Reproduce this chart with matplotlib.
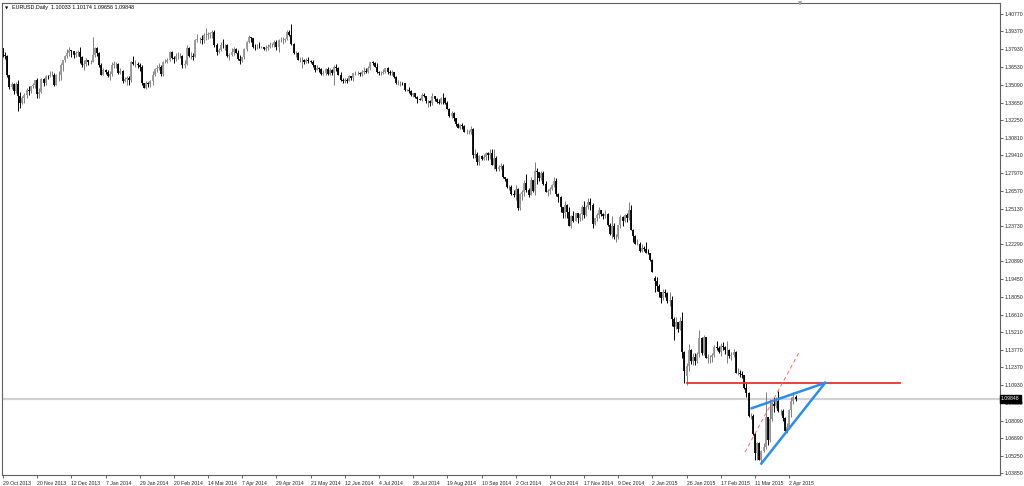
# EURUSD daily candles with wedge / level drawings (MT4 style)

import numpy as np
import matplotlib
matplotlib.use('Agg')
import matplotlib.pyplot as plt
from matplotlib.transforms import blended_transform_factory

# Daily OHLC, 29 Oct 2013 .. 7 Apr 2015 (one value per trading day)
opens = [
    1.3800, 1.3745, 1.3740, 1.3585, 1.3487, 1.3515, 1.3456, 1.3515, 1.3415, 1.3365,
    1.3405, 1.3425, 1.3465, 1.3460, 1.3495, 1.3505, 1.3545, 1.3435, 1.3450, 1.3555,
    1.3525, 1.3580, 1.3575, 1.3590, 1.3590, 1.3510, 1.3590, 1.3590, 1.3665, 1.3705,
    1.3740, 1.3760, 1.3785, 1.3780, 1.3745, 1.3765, 1.3770, 1.3735, 1.3670, 1.3675,
    1.3705, 1.3690, 1.3690, 1.3745, 1.3800, 1.3765, 1.3670, 1.3590, 1.3625, 1.3615,
    1.3575, 1.3595, 1.3665, 1.3675, 1.3675, 1.3605, 1.3620, 1.3540, 1.3555, 1.3560,
    1.3545, 1.3690, 1.3675, 1.3675, 1.3665, 1.3655, 1.3520, 1.3485, 1.3525, 1.3515,
    1.3535, 1.3590, 1.3635, 1.3640, 1.3655, 1.3595, 1.3690, 1.3695, 1.3710, 1.3775,
    1.3725, 1.3715, 1.3740, 1.3740, 1.3740, 1.3670, 1.3675, 1.3805, 1.3740, 1.3740,
    1.3735, 1.3865, 1.3875, 1.3875, 1.3865, 1.3905, 1.3905, 1.3915, 1.3925, 1.3930,
    1.3830, 1.3775, 1.3790, 1.3830, 1.3825, 1.3830, 1.3740, 1.3750, 1.3770, 1.3795,
    1.3765, 1.3715, 1.3700, 1.3730, 1.3795, 1.3855, 1.3890, 1.3885, 1.3815, 1.3810,
    1.3815, 1.3810, 1.3810, 1.3795, 1.3805, 1.3815, 1.3825, 1.3830, 1.3855, 1.3815,
    1.3870, 1.3870, 1.3870, 1.3875, 1.3930, 1.3910, 1.3835, 1.3760, 1.3760, 1.3710,
    1.3710, 1.3710, 1.3695, 1.3710, 1.3700, 1.3690, 1.3665, 1.3630, 1.3640, 1.3635,
    1.3595, 1.3600, 1.3635, 1.3595, 1.3625, 1.3600, 1.3655, 1.3640, 1.3590, 1.3545,
    1.3535, 1.3545, 1.3540, 1.3575, 1.3560, 1.3600, 1.3605, 1.3605, 1.3595, 1.3615,
    1.3620, 1.3615, 1.3645, 1.3690, 1.3680, 1.3655, 1.3615, 1.3600, 1.3605, 1.3615,
    1.3640, 1.3610, 1.3605, 1.3610, 1.3570, 1.3525, 1.3525, 1.3525, 1.3520, 1.3465,
    1.3465, 1.3460, 1.3430, 1.3440, 1.3410, 1.3395, 1.3390, 1.3430, 1.3415, 1.3375,
    1.3380, 1.3360, 1.3415, 1.3395, 1.3370, 1.3360, 1.3405, 1.3400, 1.3365, 1.3315,
    1.3255, 1.3280, 1.3240, 1.3195, 1.3165, 1.3185, 1.3180, 1.3130, 1.3130, 1.3130,
    1.3150, 1.2945, 1.2955, 1.2890, 1.2940, 1.2915, 1.2925, 1.2960, 1.2945, 1.2960,
    1.2865, 1.2920, 1.2830, 1.2850, 1.2855, 1.2765, 1.2750, 1.2685, 1.2690, 1.2630,
    1.2620, 1.2670, 1.2515, 1.2630, 1.2645, 1.2720, 1.2660, 1.2625, 1.2740, 1.2655,
    1.2815, 1.2810, 1.2760, 1.2800, 1.2710, 1.2650, 1.2655, 1.2670, 1.2700, 1.2735,
    1.2630, 1.2610, 1.2525, 1.2480, 1.2545, 1.2490, 1.2375, 1.2450, 1.2415, 1.2475,
    1.2435, 1.2470, 1.2525, 1.2460, 1.2530, 1.2565, 1.2545, 1.2390, 1.2435, 1.2465,
    1.2505, 1.2470, 1.2450, 1.2470, 1.2380, 1.2310, 1.2375, 1.2285, 1.2285, 1.2380,
    1.2445, 1.2410, 1.2465, 1.2440, 1.2500, 1.2345, 1.2290, 1.2230, 1.2230, 1.2175,
    1.2200, 1.2185, 1.2160, 1.2155, 1.2100, 1.1955, 1.1935, 1.1890, 1.1840, 1.1795,
    1.1840, 1.1835, 1.1775, 1.1780, 1.1630, 1.1565, 1.1600, 1.1550, 1.1610, 1.1365,
    1.1165, 1.1245, 1.1380, 1.1285, 1.1320, 1.1290, 1.1345, 1.1475, 1.1350, 1.1478,
    1.1315, 1.1320, 1.1325, 1.1335, 1.1405, 1.1390, 1.1365, 1.1410, 1.1405, 1.1375,
    1.1380, 1.1330, 1.1340, 1.1365, 1.1195, 1.1195, 1.1185, 1.1175, 1.1075, 1.1030,
    1.0845, 1.0850, 1.0700, 1.0550, 1.0630, 1.0495, 1.0565, 1.0595, 1.0835, 1.0655,
    1.0825, 1.0940, 1.0925, 1.0965, 1.0885, 1.0890, 1.0830, 1.0730, 1.0760, 1.0895,
    1.0970, 1.10033,
]
highs = [
    1.3806, 1.3772, 1.3744, 1.3590, 1.3530, 1.3522, 1.3530, 1.3545, 1.3450, 1.3420,
    1.3440, 1.3480, 1.3495, 1.3500, 1.3525, 1.3550, 1.3560, 1.3480, 1.3560, 1.3565,
    1.3585, 1.3590, 1.3620, 1.3620, 1.3600, 1.3595, 1.3620, 1.3680, 1.3710, 1.3745,
    1.3795, 1.3810, 1.3790, 1.3782, 1.3780, 1.3790, 1.3810, 1.3740, 1.3705, 1.3720,
    1.3710, 1.3705, 1.3893, 1.3810, 1.3815, 1.3775, 1.3680, 1.3645, 1.3635, 1.3625,
    1.3620, 1.3690, 1.3700, 1.3690, 1.3680, 1.3640, 1.3625, 1.3570, 1.3575, 1.3580,
    1.3700, 1.3740, 1.3710, 1.3690, 1.3680, 1.3665, 1.3525, 1.3540, 1.3530, 1.3545,
    1.3620, 1.3645, 1.3665, 1.3680, 1.3665, 1.3700, 1.3715, 1.3720, 1.3780, 1.3780,
    1.3740, 1.3760, 1.3770, 1.3765, 1.3745, 1.3710, 1.3825, 1.3810, 1.3770, 1.3760,
    1.3875, 1.3915, 1.3890, 1.3905, 1.3925, 1.3967, 1.3935, 1.3935, 1.3945, 1.3950,
    1.3840, 1.3805, 1.3850, 1.3875, 1.3835, 1.3835, 1.3765, 1.3805, 1.3810, 1.3805,
    1.3785, 1.3745, 1.3735, 1.3800, 1.3860, 1.3905, 1.3895, 1.3885, 1.3835, 1.3835,
    1.3850, 1.3820, 1.3815, 1.3825, 1.3835, 1.3850, 1.3845, 1.3865, 1.3865, 1.3880,
    1.3890, 1.3890, 1.3885, 1.3950, 1.3950, 1.3993, 1.3840, 1.3780, 1.3770, 1.3730,
    1.3730, 1.3715, 1.3725, 1.3730, 1.3705, 1.3705, 1.3670, 1.3665, 1.3650, 1.3640,
    1.3625, 1.3645, 1.3650, 1.3645, 1.3635, 1.3670, 1.3677, 1.3650, 1.3610, 1.3560,
    1.3560, 1.3565, 1.3590, 1.3580, 1.3605, 1.3620, 1.3620, 1.3615, 1.3625, 1.3650,
    1.3645, 1.3660, 1.3695, 1.3700, 1.3695, 1.3680, 1.3620, 1.3620, 1.3635, 1.3645,
    1.3650, 1.3625, 1.3625, 1.3615, 1.3580, 1.3545, 1.3535, 1.3530, 1.3525, 1.3475,
    1.3490, 1.3470, 1.3445, 1.3445, 1.3420, 1.3405, 1.3445, 1.3440, 1.3420, 1.3390,
    1.3390, 1.3440, 1.3420, 1.3405, 1.3395, 1.3410, 1.3445, 1.3410, 1.3375, 1.3325,
    1.3295, 1.3290, 1.3240, 1.3200, 1.3195, 1.3205, 1.3185, 1.3150, 1.3145, 1.3175,
    1.3160, 1.2995, 1.2965, 1.2945, 1.2945, 1.2950, 1.2965, 1.2965, 1.2990, 1.2990,
    1.2990, 1.2935, 1.2860, 1.2880, 1.2875, 1.2770, 1.2760, 1.2705, 1.2705, 1.2665,
    1.2700, 1.2675, 1.2635, 1.2665, 1.2745, 1.2790, 1.2675, 1.2770, 1.2745, 1.2887,
    1.2840, 1.2810, 1.2815, 1.2815, 1.2735, 1.2670, 1.2685, 1.2715, 1.2765, 1.2760,
    1.2640, 1.2615, 1.2530, 1.2575, 1.2550, 1.2530, 1.2465, 1.2495, 1.2480, 1.2480,
    1.2475, 1.2545, 1.2575, 1.2545, 1.2600, 1.2595, 1.2555, 1.2440, 1.2475, 1.2530,
    1.2505, 1.2480, 1.2500, 1.2475, 1.2395, 1.2455, 1.2395, 1.2310, 1.2385, 1.2460,
    1.2450, 1.2470, 1.2480, 1.2570, 1.2540, 1.2350, 1.2300, 1.2270, 1.2245, 1.2225,
    1.2210, 1.2245, 1.2185, 1.2160, 1.2105, 1.1970, 1.1960, 1.1905, 1.1845, 1.1865,
    1.1870, 1.1845, 1.1840, 1.1810, 1.1645, 1.1645, 1.1605, 1.1640, 1.1680, 1.1370,
    1.1270, 1.1425, 1.1385, 1.1350, 1.1350, 1.1365, 1.1535, 1.1485, 1.1500, 1.1485,
    1.1345, 1.1340, 1.1350, 1.1420, 1.1450, 1.1410, 1.1430, 1.1445, 1.1410, 1.1450,
    1.1385, 1.1365, 1.1385, 1.1370, 1.1230, 1.1215, 1.1205, 1.1180, 1.1115, 1.1040,
    1.0870, 1.0860, 1.0715, 1.0635, 1.0635, 1.0575, 1.0630, 1.1043, 1.0840, 1.0985,
    1.0960, 1.1000, 1.1000, 1.1050, 1.0900, 1.0905, 1.0835, 1.0790, 1.0905, 1.1000,
    1.1037, 1.10174,
]
lows = [
    1.3735, 1.3715, 1.3574, 1.3478, 1.3476, 1.3437, 1.3445, 1.3296, 1.3320, 1.3355,
    1.3365, 1.3400, 1.3430, 1.3440, 1.3480, 1.3480, 1.3400, 1.3405, 1.3440, 1.3495,
    1.3510, 1.3555, 1.3570, 1.3575, 1.3500, 1.3505, 1.3540, 1.3545, 1.3620, 1.3690,
    1.3725, 1.3740, 1.3735, 1.3720, 1.3730, 1.3740, 1.3680, 1.3655, 1.3625, 1.3660,
    1.3665, 1.3675, 1.3690, 1.3735, 1.3740, 1.3655, 1.3585, 1.3590, 1.3595, 1.3570,
    1.3550, 1.3580, 1.3645, 1.3640, 1.3595, 1.3595, 1.3525, 1.3530, 1.3505, 1.3510,
    1.3530, 1.3665, 1.3650, 1.3640, 1.3620, 1.3510, 1.3480, 1.3477, 1.3490, 1.3490,
    1.3510, 1.3575, 1.3615, 1.3630, 1.3580, 1.3580, 1.3680, 1.3685, 1.3700, 1.3715,
    1.3685, 1.3700, 1.3715, 1.3720, 1.3645, 1.3640, 1.3670, 1.3735, 1.3715, 1.3710,
    1.3730, 1.3850, 1.3845, 1.3835, 1.3845, 1.3870, 1.3880, 1.3885, 1.3885, 1.3815,
    1.3750, 1.3760, 1.3780, 1.3805, 1.3790, 1.3735, 1.3705, 1.3740, 1.3750, 1.3760,
    1.3705, 1.3675, 1.3690, 1.3715, 1.3780, 1.3845, 1.3855, 1.3805, 1.3790, 1.3795,
    1.3805, 1.3800, 1.3785, 1.3780, 1.3790, 1.3800, 1.3810, 1.3810, 1.3790, 1.3775,
    1.3855, 1.3835, 1.3855, 1.3870, 1.3900, 1.3830, 1.3755, 1.3735, 1.3705, 1.3695,
    1.3645, 1.3675, 1.3685, 1.3685, 1.3680, 1.3655, 1.3615, 1.3625, 1.3615, 1.3590,
    1.3585, 1.3590, 1.3590, 1.3590, 1.3590, 1.3503, 1.3620, 1.3585, 1.3535, 1.3525,
    1.3520, 1.3525, 1.3535, 1.3545, 1.3540, 1.3585, 1.3585, 1.3580, 1.3575, 1.3595,
    1.3605, 1.3600, 1.3630, 1.3665, 1.3650, 1.3605, 1.3590, 1.3585, 1.3595, 1.3600,
    1.3595, 1.3590, 1.3585, 1.3565, 1.3515, 1.3505, 1.3500, 1.3505, 1.3460, 1.3455,
    1.3445, 1.3420, 1.3410, 1.3405, 1.3365, 1.3385, 1.3375, 1.3410, 1.3365, 1.3332,
    1.3335, 1.3345, 1.3380, 1.3360, 1.3355, 1.3355, 1.3355, 1.3355, 1.3310, 1.3250,
    1.3240, 1.3215, 1.3175, 1.3160, 1.3155, 1.3150, 1.3125, 1.3110, 1.3110, 1.3115,
    1.2920, 1.2920, 1.2860, 1.2860, 1.2900, 1.2905, 1.2900, 1.2905, 1.2915, 1.2860,
    1.2835, 1.2815, 1.2815, 1.2835, 1.2760, 1.2735, 1.2680, 1.2665, 1.2620, 1.2605,
    1.2585, 1.2500, 1.2505, 1.2585, 1.2615, 1.2650, 1.2610, 1.2620, 1.2650, 1.2625,
    1.2715, 1.2735, 1.2745, 1.2705, 1.2645, 1.2615, 1.2630, 1.2665, 1.2690, 1.2615,
    1.2565, 1.2485, 1.2440, 1.2440, 1.2440, 1.2370, 1.2358, 1.2405, 1.2410, 1.2400,
    1.2415, 1.2425, 1.2440, 1.2455, 1.2510, 1.2505, 1.2360, 1.2385, 1.2415, 1.2440,
    1.2455, 1.2430, 1.2435, 1.2375, 1.2300, 1.2280, 1.2270, 1.2247, 1.2270, 1.2355,
    1.2375, 1.2405, 1.2405, 1.2425, 1.2340, 1.2245, 1.2225, 1.2220, 1.2165, 1.2165,
    1.2175, 1.2155, 1.2145, 1.2095, 1.2000, 1.1842, 1.1855, 1.1800, 1.1755, 1.1780,
    1.1800, 1.1755, 1.1727, 1.1567, 1.1460, 1.1550, 1.1520, 1.1535, 1.1315, 1.1115,
    1.1098, 1.1210, 1.1265, 1.1260, 1.1260, 1.1275, 1.1325, 1.1340, 1.1340, 1.1310,
    1.1270, 1.1270, 1.1280, 1.1320, 1.1375, 1.1355, 1.1330, 1.1380, 1.1345, 1.1270,
    1.1310, 1.1295, 1.1320, 1.1190, 1.1175, 1.1160, 1.1150, 1.1065, 1.1000, 1.0840,
    1.0820, 1.0695, 1.0495, 1.0490, 1.0490, 1.0462, 1.0555, 1.0585, 1.0613, 1.0640,
    1.0805, 1.0880, 1.0910, 1.0880, 1.0855, 1.0810, 1.0710, 1.0712, 1.0750, 1.0840,
    1.0945, 1.09656,
]
closes = [
    1.3745, 1.3740, 1.3585, 1.3487, 1.3515, 1.3456, 1.3515, 1.3415, 1.3365, 1.3405,
    1.3425, 1.3465, 1.3460, 1.3495, 1.3505, 1.3545, 1.3435, 1.3450, 1.3555, 1.3525,
    1.3580, 1.3575, 1.3590, 1.3590, 1.3510, 1.3590, 1.3590, 1.3665, 1.3705, 1.3740,
    1.3760, 1.3785, 1.3780, 1.3745, 1.3765, 1.3770, 1.3735, 1.3670, 1.3675, 1.3705,
    1.3690, 1.3690, 1.3745, 1.3800, 1.3765, 1.3670, 1.3590, 1.3625, 1.3615, 1.3575,
    1.3595, 1.3665, 1.3675, 1.3675, 1.3605, 1.3620, 1.3540, 1.3555, 1.3560, 1.3545,
    1.3690, 1.3675, 1.3675, 1.3665, 1.3655, 1.3520, 1.3485, 1.3525, 1.3515, 1.3535,
    1.3590, 1.3635, 1.3640, 1.3655, 1.3595, 1.3690, 1.3695, 1.3710, 1.3775, 1.3725,
    1.3715, 1.3740, 1.3740, 1.3740, 1.3670, 1.3675, 1.3805, 1.3740, 1.3740, 1.3735,
    1.3865, 1.3875, 1.3875, 1.3865, 1.3905, 1.3905, 1.3915, 1.3925, 1.3930, 1.3830,
    1.3775, 1.3790, 1.3830, 1.3825, 1.3830, 1.3740, 1.3750, 1.3770, 1.3795, 1.3765,
    1.3715, 1.3700, 1.3730, 1.3795, 1.3855, 1.3890, 1.3885, 1.3815, 1.3810, 1.3815,
    1.3810, 1.3810, 1.3795, 1.3805, 1.3815, 1.3825, 1.3830, 1.3855, 1.3815, 1.3870,
    1.3870, 1.3870, 1.3875, 1.3930, 1.3910, 1.3835, 1.3760, 1.3760, 1.3710, 1.3710,
    1.3710, 1.3695, 1.3710, 1.3700, 1.3690, 1.3665, 1.3630, 1.3640, 1.3635, 1.3595,
    1.3600, 1.3635, 1.3595, 1.3625, 1.3600, 1.3655, 1.3640, 1.3590, 1.3545, 1.3535,
    1.3545, 1.3540, 1.3575, 1.3560, 1.3600, 1.3605, 1.3605, 1.3595, 1.3615, 1.3620,
    1.3615, 1.3645, 1.3690, 1.3680, 1.3655, 1.3615, 1.3600, 1.3605, 1.3615, 1.3640,
    1.3610, 1.3605, 1.3610, 1.3570, 1.3525, 1.3525, 1.3525, 1.3520, 1.3465, 1.3465,
    1.3460, 1.3430, 1.3440, 1.3410, 1.3395, 1.3390, 1.3430, 1.3415, 1.3375, 1.3380,
    1.3360, 1.3415, 1.3395, 1.3370, 1.3360, 1.3405, 1.3400, 1.3365, 1.3315, 1.3255,
    1.3280, 1.3240, 1.3195, 1.3165, 1.3185, 1.3180, 1.3130, 1.3130, 1.3130, 1.3150,
    1.2945, 1.2955, 1.2890, 1.2940, 1.2915, 1.2925, 1.2960, 1.2945, 1.2960, 1.2865,
    1.2920, 1.2830, 1.2850, 1.2855, 1.2765, 1.2750, 1.2685, 1.2690, 1.2630, 1.2620,
    1.2670, 1.2515, 1.2630, 1.2645, 1.2720, 1.2660, 1.2625, 1.2740, 1.2655, 1.2815,
    1.2810, 1.2760, 1.2800, 1.2710, 1.2650, 1.2655, 1.2670, 1.2700, 1.2735, 1.2630,
    1.2610, 1.2525, 1.2480, 1.2545, 1.2490, 1.2375, 1.2450, 1.2415, 1.2475, 1.2435,
    1.2470, 1.2525, 1.2460, 1.2530, 1.2565, 1.2545, 1.2390, 1.2435, 1.2465, 1.2505,
    1.2470, 1.2450, 1.2470, 1.2380, 1.2310, 1.2375, 1.2285, 1.2285, 1.2380, 1.2445,
    1.2410, 1.2465, 1.2440, 1.2500, 1.2345, 1.2290, 1.2230, 1.2230, 1.2175, 1.2200,
    1.2185, 1.2160, 1.2155, 1.2100, 1.2005, 1.1935, 1.1890, 1.1840, 1.1795, 1.1840,
    1.1835, 1.1775, 1.1780, 1.1630, 1.1565, 1.1600, 1.1550, 1.1610, 1.1365, 1.1205,
    1.1245, 1.1380, 1.1285, 1.1320, 1.1290, 1.1345, 1.1475, 1.1350, 1.1478, 1.1315,
    1.1320, 1.1325, 1.1335, 1.1405, 1.1390, 1.1365, 1.1410, 1.1405, 1.1375, 1.1380,
    1.1330, 1.1340, 1.1365, 1.1195, 1.1195, 1.1185, 1.1175, 1.1075, 1.1030, 1.0845,
    1.0850, 1.0700, 1.0550, 1.0630, 1.0495, 1.0565, 1.0595, 1.0835, 1.0655, 1.0825,
    1.0940, 1.0925, 1.0965, 1.0885, 1.0890, 1.0830, 1.0730, 1.0760, 1.0895, 1.0970,
    1.1003, 1.09848,
]

# one date label every 16 bars, starting at the first bar
date_labels = ['29 Oct 2013', '20 Nov 2013', '12 Dec 2013', '7 Jan 2014', '29 Jan 2014',
               '20 Feb 2014', '14 Mar 2014', '7 Apr 2014', '29 Apr 2014', '21 May 2014',
               '12 Jun 2014', '4 Jul 2014', '28 Jul 2014', '19 Aug 2014', '10 Sep 2014',
               '2 Oct 2014', '24 Oct 2014', '17 Nov 2014', '9 Dec 2014', '2 Jan 2015',
               '26 Jan 2015', '17 Feb 2015', '11 Mar 2015', '2 Apr 2015']
bars_per_label = 16

price_ticks = [1.40770, 1.39370, 1.37930, 1.36530, 1.35090, 1.33650, 1.32250, 1.30810,
               1.29410, 1.27970, 1.26570, 1.25130, 1.23730, 1.22290, 1.20890, 1.19450,
               1.18050, 1.16610, 1.15210, 1.13770, 1.12370, 1.10930, 1.09530, 1.08090,
               1.06690, 1.05250, 1.03850]

# hand drawn objects: (bar index, price) end points
level_bars, level_price = [320, 420], 1.1110
wedge_top_bars, wedge_top_prices = [350.4, 384.8], [1.0909, 1.1113]
wedge_low_bars, wedge_low_prices = [355, 384.8], [1.0465, 1.1113]
dash_bars, dash_prices = [347.3, 372.7], [1.0556, 1.1361]

header = 'EURUSD,Daily  1.10033 1.10174 1.09656 1.09848'

small_font = ['Liberation Sans Narrow', 'Liberation Sans', 'DejaVu Sans']
plt.rcParams['font.family'] = small_font

o = np.array(opens)
h = np.array(highs)
l = np.array(lows)
c = np.array(closes)
idx = np.arange(len(c))
up = c >= o

fig = plt.figure(figsize=(10.24, 4.86), dpi=100)
ax = fig.add_axes([2 / 1024, 11 / 486, 998 / 1024, 472 / 486])
ax.set_xlim(-0.47, 466.7)
ax.set_ylim(1.03729, 1.41654)

# bid line
ax.axhline(c[-1], color='#d2d2d2', lw=1.6, zorder=0)

# candles
ax.vlines(idx[up], l[up], h[up], color='#7c7c7c', lw=0.7, zorder=2)
ax.vlines(idx[~up], l[~up], h[~up], color='black', lw=0.7, zorder=2)
ax.vlines(idx[up], o[up], c[up], color='#979797', lw=1.3, zorder=2)
ax.vlines(idx[~up], o[~up], c[~up], color='black', lw=1.3, zorder=2)

# drawings
ax.plot(level_bars, [level_price, level_price], color='#e8322a', lw=1.3, zorder=3)
ax.plot(wedge_top_bars, wedge_top_prices, color='#2a8ef0', lw=1.8, zorder=3)
ax.plot(wedge_low_bars, wedge_low_prices, color='#2a8ef0', lw=1.8, zorder=3)
ax.plot(dash_bars, dash_prices, color='#ff6a6a', lw=0.7, ls=(0, (4, 3)), zorder=3)

# axes look
for s in ax.spines.values():
    s.set_color('#606060')
    s.set_linewidth(0.8)

ax.yaxis.tick_right()
ax.set_yticks(price_ticks)
ax.set_yticklabels([f'{p:.5f}' for p in price_ticks])
ax.tick_params(axis='y', length=2.0, width=0.5, pad=1.2, labelsize=3.7,
               colors='#202020')

ax.set_xticks(np.arange(len(date_labels)) * bars_per_label)
ax.set_xticklabels(date_labels)
for t in ax.get_xticklabels():
    t.set_ha('left')
ax.tick_params(axis='x', length=2.5, width=0.5, pad=1.5, labelsize=3.7, colors='#202020')

# current price box on the price scale
tr = blended_transform_factory(ax.transAxes, ax.transData)
ax.text(1.001, c[-1], f'{c[-1]:.5f}', transform=tr, fontsize=3.7, color='white',
        va='center', ha='left', clip_on=False, zorder=6,
        bbox=dict(boxstyle='square,pad=0.25', fc='black', ec='black'))

fig.text(5 / 1024, 1 - 8 / 486, '\u25bc', fontsize=3, va='center', ha='left',
         family='DejaVu Sans')
fig.text(12 / 1024, 1 - 8 / 486, header, fontsize=3.9, va='center', ha='left')
fig.text(800 / 1024, 1 - 4 / 486, '\u25bc', fontsize=4, color='#a0a0a0',
         va='center', ha='center', family='DejaVu Sans')

fig.savefig('out.png', dpi=100)
